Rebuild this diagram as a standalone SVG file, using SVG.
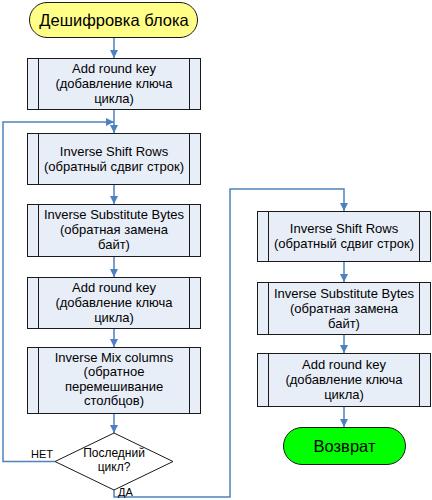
<svg xmlns="http://www.w3.org/2000/svg" width="432" height="500" viewBox="0 0 432 500">
<style>
.box{fill:#E8EEF8;stroke:#1a1a1a;stroke-width:1}
.inner{stroke:#1a1a1a;stroke-width:1}
.t{font-family:"Liberation Sans",Arial,sans-serif;font-size:13px;fill:#000;text-anchor:middle}
.d{font-size:12px}
.big{font-size:16.5px}
.lbl{font-family:"Liberation Sans",Arial,sans-serif;font-size:11px;fill:#000}
.c{fill:none;stroke:#4F81BD;stroke-width:1.5}
</style>
<defs>
<marker id="ah" viewBox="0 0 8 8" refX="8" refY="4" markerWidth="8" markerHeight="8" markerUnits="userSpaceOnUse" orient="auto">
<path d="M0,0 L8,4 L0,8 Z" fill="#4F81BD"/>
</marker>
</defs>
<rect width="432" height="500" fill="#fff"/>
<g id="connectors">
<path class="c" d="M114,38 V58" marker-end="url(#ah)"/>
<path class="c" d="M114,110 V133" marker-end="url(#ah)"/>
<path class="c" d="M55,461.5 H3 V122 H114" marker-end="url(#ah)"/>
<path class="c" d="M114,185 V204" marker-end="url(#ah)"/>
<path class="c" d="M114,257 V277" marker-end="url(#ah)"/>
<path class="c" d="M114,329 V347" marker-end="url(#ah)"/>
<path class="c" d="M114,414 V433" marker-end="url(#ah)"/>
<path class="c" d="M114,490 V497 H230 V189 H344 V211" marker-end="url(#ah)"/>
<path class="c" d="M344,262 V282" marker-end="url(#ah)"/>
<path class="c" d="M344,335 V353" marker-end="url(#ah)"/>
<path class="c" d="M344,407 V427" marker-end="url(#ah)"/>
<text class="lbl" x="53" y="458" text-anchor="end">НЕТ</text>
<text class="lbl" x="118" y="496">ДА</text>
</g>
<g id="start">
<rect x="29.5" y="2.5" width="168" height="35" rx="17.5" fill="#FFFF88" stroke="#1a1a1a"/>
<text class="t big" x="114" y="25.5">Дешифровка блока</text>
</g>
<g id="b1">
<rect class="box" x="27.5" y="58.5" width="173" height="51"/>
<path class="inner" d="M38.5,58.5 V109.5 M189.5,58.5 V109.5"/>
<text class="t" x="114" y="72.5">Add round key</text>
<text class="t" x="114" y="87.5">(добавление ключа</text>
<text class="t" x="114" y="102.5">цикла)</text>
</g>
<g id="b2">
<rect class="box" x="27.5" y="133.5" width="173" height="51"/>
<path class="inner" d="M38.5,133.5 V184.5 M189.5,133.5 V184.5"/>
<text class="t" x="114" y="155.5">Inverse Shift Rows</text>
<text class="t" x="114" y="170.5">(обратный сдвиг строк)</text>
</g>
<g id="b3">
<rect class="box" x="27.5" y="204.5" width="173" height="52"/>
<path class="inner" d="M38.5,204.5 V256.5 M189.5,204.5 V256.5"/>
<text class="t" x="114" y="219">Inverse Substitute Bytes</text>
<text class="t" x="114" y="234">(обратная замена</text>
<text class="t" x="114" y="249">байт)</text>
</g>
<g id="b4">
<rect class="box" x="27.5" y="277.5" width="173" height="51"/>
<path class="inner" d="M38.5,277.5 V328.5 M189.5,277.5 V328.5"/>
<text class="t" x="114" y="291.5">Add round key</text>
<text class="t" x="114" y="306.5">(добавление ключа</text>
<text class="t" x="114" y="321.5">цикла)</text>
</g>
<g id="b5">
<rect class="box" x="27.5" y="347.5" width="173" height="66"/>
<path class="inner" d="M38.5,347.5 V413.5 M189.5,347.5 V413.5"/>
<text class="t" x="114" y="361.5">Inverse Mix columns</text>
<text class="t" x="114" y="376">(обратное</text>
<text class="t" x="114" y="390.5">перемешивание</text>
<text class="t" x="114" y="405">столбцов)</text>
</g>
<g id="decision">
<path d="M114,433 L173,461.5 L114,490 L55,461.5 Z" fill="#fff" stroke="#1a1a1a"/>
<text class="t d" x="114" y="457">Последний</text>
<text class="t d" x="114" y="471">цикл?</text>
</g>
<g id="b6">
<rect class="box" x="257.5" y="211.5" width="173" height="50"/>
<path class="inner" d="M268.5,211.5 V261.5 M419.5,211.5 V261.5"/>
<text class="t" x="344" y="232.5">Inverse Shift Rows</text>
<text class="t" x="344" y="247.5">(обратный сдвиг строк)</text>
</g>
<g id="b7">
<rect class="box" x="257.5" y="282.5" width="173" height="52"/>
<path class="inner" d="M268.5,282.5 V334.5 M419.5,282.5 V334.5"/>
<text class="t" x="344" y="297.5">Inverse Substitute Bytes</text>
<text class="t" x="344" y="312.5">(обратная замена</text>
<text class="t" x="344" y="327.5">байт)</text>
</g>
<g id="b8">
<rect class="box" x="257.5" y="353.5" width="173" height="53"/>
<path class="inner" d="M268.5,353.5 V406.5 M419.5,353.5 V406.5"/>
<text class="t" x="344" y="369">Add round key</text>
<text class="t" x="344" y="384">(добавление ключа</text>
<text class="t" x="344" y="399">цикла)</text>
</g>
<g id="end">
<rect x="283.5" y="427.5" width="122" height="37" rx="18.5" fill="#00FF00" stroke="#1a1a1a"/>
<text class="t big" x="344.5" y="451.5">Возврат</text>
</g>
</svg>
